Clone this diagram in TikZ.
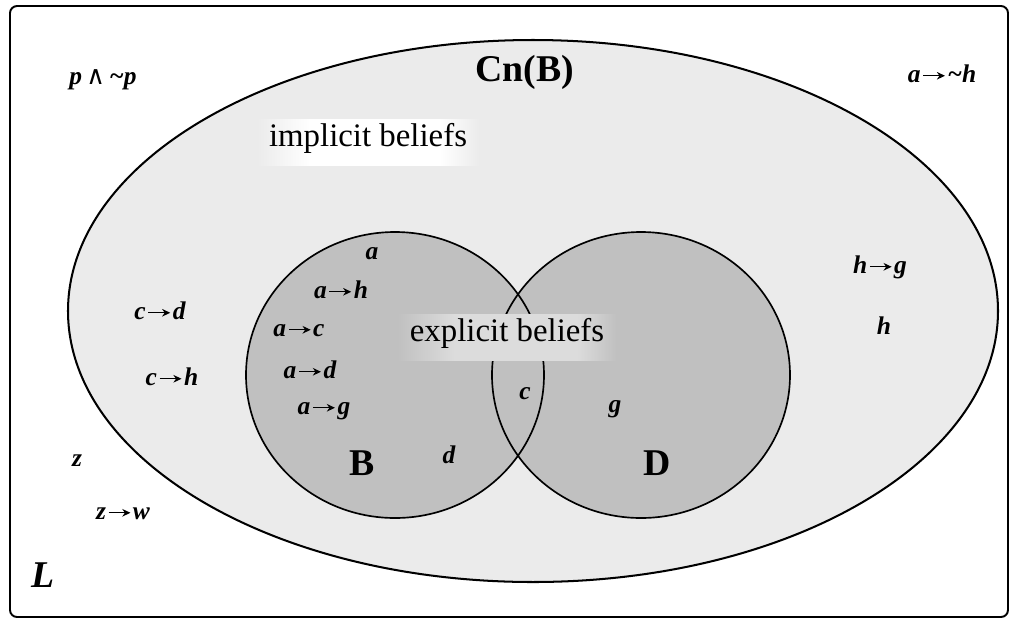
\documentclass[tikz,border=0pt]{standalone}
\usepackage{fontspec}
\setmainfont{Liberation Serif}
\newfontfamily\wedgefont{DejaVu Serif}
\usepackage{xcolor}
\usepackage{tikz}
\usetikzlibrary{positioning, arrows.meta}

\definecolor{implicitgray}{HTML}{EBEBEB}
\definecolor{explicitgray}{HTML}{C0C0C0}
\definecolor{explicitglowc}{HTML}{DCDCDC}

\pgfdeclarehorizontalshading{implicitglow}{100bp}{%
  color(0bp)=(implicitgray); color(25bp)=(implicitgray); color(37bp)=(white);
  color(66bp)=(white); color(75bp)=(implicitgray); color(100bp)=(implicitgray)}
\pgfdeclarehorizontalshading{explicitglow}{100bp}{%
  color(0bp)=(explicitgray); color(25bp)=(explicitgray); color(38bp)=(explicitglowc);
  color(66bp)=(explicitglowc); color(75bp)=(explicitgray); color(100bp)=(explicitgray)}

% material implication arrow
\newcommand{\impl}{\hspace{0.08em}\tikz[baseline=-0.26em]
  \draw[line width=0.6pt, -{Stealth[length=0.32em, width=0.3em]}] (0,0) -- (0.86em,0);\hspace{0.08em}}

\begin{document}
\begin{tikzpicture}[
    x=0.02cm, y=-0.02cm,
    language/.style={
        draw=black,
        line width=1.1pt,
        rounded corners=4pt
    },
    cnset/.style={
        draw=black,
        line width=1.15pt,
        fill=implicitgray
    },
    baseset/.style={fill=explicitgray},
    baserim/.style={draw=black, line width=0.95pt},
    formula/.style={
        font=\fontsize{14.5}{16}\selectfont\bfseries\itshape,
        inner sep=0pt,
        text height=0.5em,
        text depth=0pt
    },
    setname/.style={
        font=\fontsize{21.5}{24}\selectfont\bfseries,
        inner sep=0pt,
        text height=0.66em,
        text depth=0pt
    },
    beliefs/.style={
        font=\fontsize{18.7}{21}\selectfont,
        inner xsep=7pt,
        inner ysep=0pt,
        minimum height=0.92cm,
        text height=0.68em,
        text depth=0.2em
    }
]

\useasboundingbox (0,0) rectangle (1015,620);

% the language L
\draw[language] (10,6) rectangle (1008,617);

% Cn(B)
\draw[cnset] (533,311) ellipse [x radius=465, y radius=271];

% the bases B and D
\fill[baseset] (395,375) ellipse [x radius=149, y radius=143];
\fill[baseset] (641,375) ellipse [x radius=149, y radius=143];
\draw[baserim] (395,375) ellipse [x radius=149, y radius=143];
\draw[baserim] (641,375) ellipse [x radius=149, y radius=143];

\node[beliefs, shading=implicitglow] (implicit) at (368,142) {implicit beliefs};
\node[beliefs, shading=explicitglow] (explicit) at (507,337) {explicit beliefs};

\node[setname] (cnb) at (525,76) {Cn(B)};
\node[setname] (nameb) at (362,470) {B};
\node[setname] (named) at (657,470) {D};
\node[setname, font=\fontsize{21.5}{24}\selectfont\bfseries\itshape] (namel) at (43,582) {L};

% outside Cn(B)
\node[formula] (contra) at (103,80) {p\,{\wedgefont\mdseries\upshape ∧}\,\textasciitilde p};
\node[formula] (anoth) at (942,78) {a\impl\textasciitilde h};
\node[formula] (z) at (77,462) {z};
\node[formula] (ztow) at (123,515) {z\impl w};

% implicit only
\node[formula] (ctod) at (160,315) {c\impl d};
\node[formula] (ctoh) at (172,381) {c\impl h};
\node[formula] (htog) at (880,269) {h\impl g};
\node[formula] (h) at (884,330) {h};

% in B
\node[formula] (a) at (372,255) {a};
\node[formula] (atoh) at (341,294) {a\impl h};
\node[formula] (atoc) at (299,332) {a\impl c};
\node[formula] (atod) at (310,374) {a\impl d};
\node[formula] (atog) at (324,410) {a\impl g};
\node[formula] (d) at (449,459) {d};
\node[formula] (c) at (525,395) {c};

% in D
\node[formula] (g) at (615,408) {g};

\end{tikzpicture}
\end{document}
